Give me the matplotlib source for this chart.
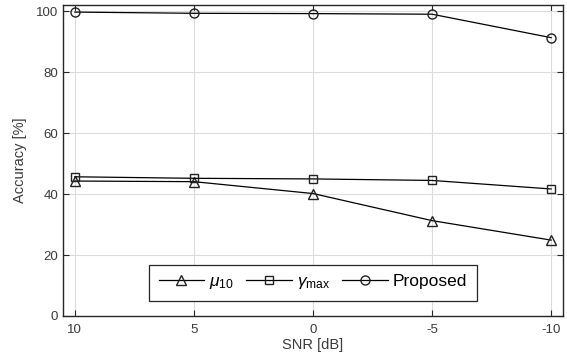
import matplotlib
matplotlib.use("Agg")
import matplotlib.pyplot as plt

snr = [10, 5, 0, -5, -10]
mu10 = [44.3, 44.1, 40.2, 31.3, 24.9]
gamma_max = [45.7, 45.2, 45.0, 44.5, 41.7]
proposed = [99.8, 99.4, 99.3, 99.1, 91.4]
xticks = [10, 5, 0, -5, -10]
yticks = [0, 20, 40, 60, 80, 100]

plt.rcParams['font.family'] = ['Liberation Sans', 'DejaVu Sans']
plt.rcParams['mathtext.fontset'] = 'custom'
plt.rcParams['mathtext.rm'] = 'Liberation Sans'
plt.rcParams['mathtext.it'] = 'Liberation Sans:italic'

tc = '#262626'
lc = '#3a3a3a'
fig = plt.figure(figsize=(5.67, 3.59), dpi=100)
ax = fig.add_axes([0.111, 0.120, 0.882, 0.865])

kw = dict(color='black', linewidth=0.9, markersize=6.5, markerfacecolor='none',
          markeredgecolor='#222222', markeredgewidth=1.0)
ax.plot(snr, mu10, marker='^', label=r'$\mu_{10}$', **kw)
ax.plot(snr, gamma_max, marker='s', label=r'$\gamma_{\mathrm{max}}$', **{**kw, 'markersize': 5.5})
ax.plot(snr, proposed, marker='o', label='Proposed', **kw)

ax.set_xlim(10.5, -10.5)
ax.set_ylim(0, 102)
ax.set_xticks(xticks)
ax.set_xticklabels([str(v) for v in xticks])
ax.set_yticks(yticks)
ax.grid(True, color='#dcdcdc', linewidth=0.8)
ax.set_axisbelow(True)
ax.tick_params(direction='in', top=True, right=True, length=4, width=0.8,
               colors=tc, labelsize=9.5, labelcolor=lc)
ax.tick_params(axis='x', pad=6)
for s in ax.spines.values():
    s.set_color(tc)
    s.set_linewidth(1.0)

ax.set_xlabel('SNR [dB]', fontsize=10.5, color=lc, labelpad=1)
ax.set_ylabel('Accuracy [%]', fontsize=10.5, color=lc, labelpad=6)

leg = ax.legend(loc='lower center', bbox_to_anchor=(0.5, 0.048), ncol=3, fontsize=12.5,
                frameon=True, fancybox=False, edgecolor=tc, framealpha=1,
                handlelength=2.6, handletextpad=0.3, columnspacing=0.7,
                borderpad=0.55, borderaxespad=0)
leg.get_frame().set_linewidth(0.9)

fig.savefig('out.png', dpi=100)
